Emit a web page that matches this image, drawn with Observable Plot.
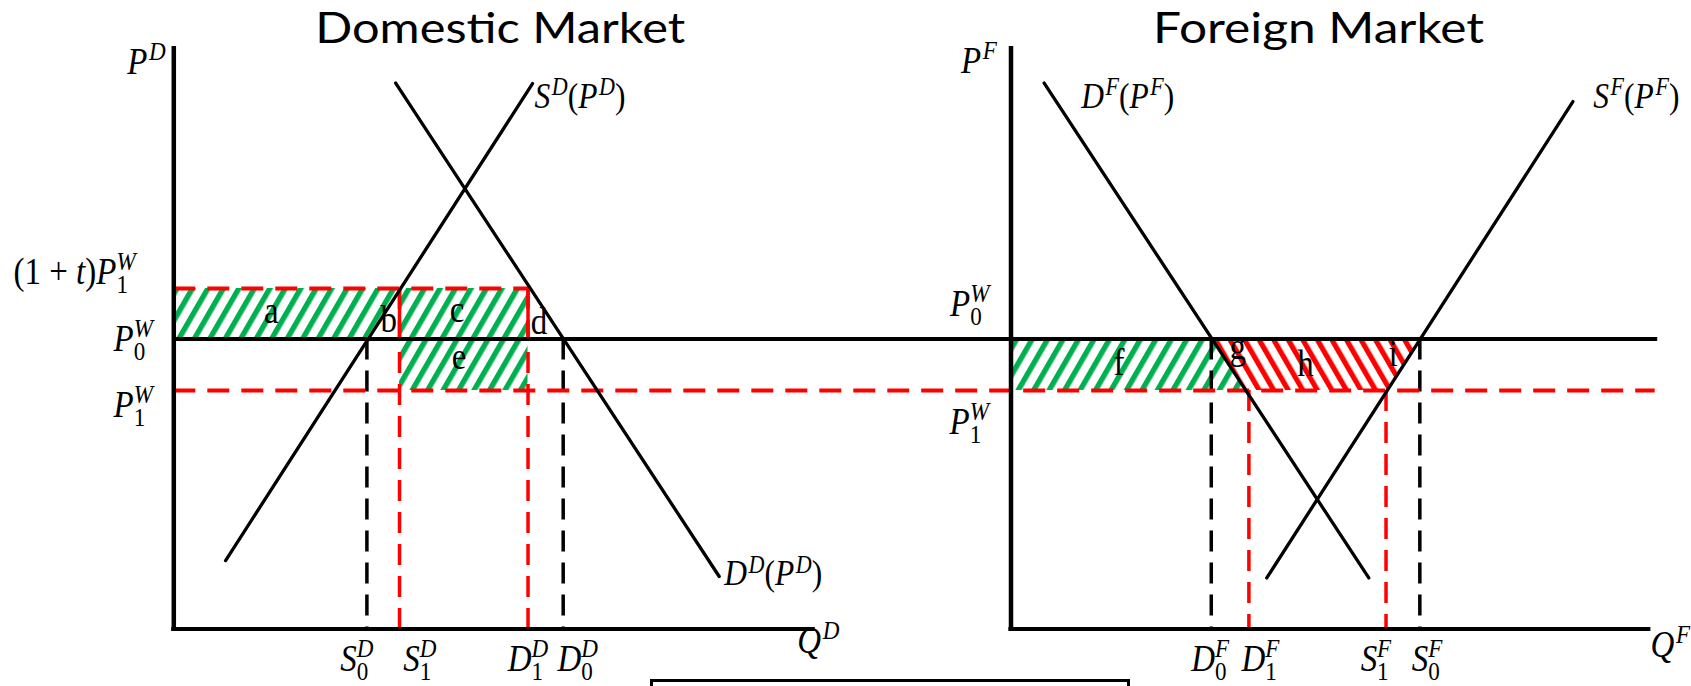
<!DOCTYPE html>
<html>
<head>
<meta charset="utf-8">
<script src="https://cdn.jsdelivr.net/npm/d3@7"></script>
<script src="https://cdn.jsdelivr.net/npm/@observablehq/plot@0.6"></script>
<style>
  html, body { margin: 0; padding: 0; background: #fff; overflow: hidden; }
  #root { position: relative; width: 1691px; height: 686px; overflow: hidden; background: #fff; }
  #root > svg { position: absolute; top: 0; }
  #box { position: absolute; left: 650px; top: 679px; width: 480px; height: 40px; border: 3.5px solid #000; box-sizing: border-box; }
</style>
</head>
<body>
<svg width="0" height="0" style="position:absolute;left:0;top:0">
  <defs>
    <pattern id="hatchGreen" patternUnits="userSpaceOnUse" width="13.4" height="20" patternTransform="rotate(30)">
      <rect x="0" y="0" width="5.4" height="20" fill="#00B050"></rect>
    </pattern>
    <pattern id="hatchRed" patternUnits="userSpaceOnUse" width="12.6" height="20" patternTransform="rotate(-30)">
      <rect x="0" y="0" width="5.2" height="20" fill="#FF0000"></rect>
    </pattern>
  </defs>
</svg>
<div id="root"></div>
<script>
// ------------------------------------------------------------------ data
const panelTitles = ["Domestic Market", "Foreign Market"];

// price levels (shared by both markets)
const P0W = 5.00;   // world price, free trade
const P1W = 4.11;   // world price with tariff
const PT  = 5.87;   // (1+t) P1W, domestic price with tariff
const axisMax = [10, 10];           // quantity / price axis extents
const tariffLineEnd = 5.58;         // (1+t)P1W line stops at domestic demand
const worldLineEnd = [10.14, 10.1]; // P0W and P1W lines stop in foreign panel
const domLineReach = 12;            // lines run on through the gap

// curves (quantity, price)
const domSupply = [{q: 0.81, p: 1.18}, {q: 5.61, p: 9.40}];
const domDemand = [{q: 3.47, p: 9.41}, {q: 8.53, p: 0.905}];
const forDemand = [{q: 0.52, p: 9.41}, {q: 5.61, p: 0.88}];
const forSupply = [{q: 4.01, p: 0.88}, {q: 8.81, p: 9.09}];

// quantity markers
const domQuantities = [
  {label: "S_0^D", q: 3.02, p: P0W, tariff: false},
  {label: "S_1^D", q: 3.53, p: PT,  tariff: true},
  {label: "D_1^D", q: 5.54, p: PT,  tariff: true},
  {label: "D_0^D", q: 6.09, p: P0W, tariff: false}
];
const forQuantities = [
  {label: "D_0^F", q: 3.14, p: P0W, tariff: false},
  {label: "D_1^F", q: 3.73, p: P1W, tariff: true},
  {label: "S_1^F", q: 5.88, p: P1W, tariff: true},
  {label: "S_0^F", q: 6.41, p: P0W, tariff: false}
];

// price axis labels
const domPriceLabels = ["P^D", "(1 + t)P_1^W", "P_0^W", "P_1^W"];
const domPriceValues = [10, PT, P0W, P1W];
const forPriceLabels = ["P^F", "P_0^W", "P_1^W"];
const forPriceValues = [10, P0W, P1W];
const axisNames = ["Q^D", "Q^F"];
const curveNames = ["S^D(P^D)", "D^D(P^D)", "D^F(P^F)", "S^F(P^F)"];

// welfare areas (quantity range, price range)
const domAreas = [
  {label: "a", q: [0, 3.02],    p: [P0W, PT]},
  {label: "b", q: [3.02, 3.53], p: [P0W, PT]},
  {label: "c", q: [3.53, 5.54], p: [P0W, PT]},
  {label: "d", q: [5.54, 6.09], p: [P0W, PT]},
  {label: "e", q: [3.53, 5.54], p: [P1W, P0W]}
];
const forAreas = [
  {label: "f", q: [0, 3.14],    p: [P1W, P0W]},
  {label: "g", q: [3.14, 3.73], p: [P1W, P0W]},
  {label: "h", q: [3.73, 5.88], p: [P1W, P0W]},
  {label: "i", q: [5.88, 6.41], p: [P1W, P0W]}
];

// hatched regions (band between two prices, left/right quantity edges)
const domGreenRegions = [
  [{p: P0W, x1: 0, x2: 3.02}, {p: PT, x1: 0, x2: 3.53}],
  [{p: P1W, x1: 3.53, x2: 5.54}, {p: PT, x1: 3.53, x2: 5.54}]
];
const forGreenRegions = [
  [{p: P1W, x1: 0, x2: 3.71}, {p: P0W, x1: 0, x2: 3.14}]
];
const forRedRegions = [
  [{p: P1W, x1: 3.71, x2: 5.90}, {p: P0W, x1: 3.14, x2: 6.42}]
];

// ------------------------------------------------------------------ style / layout
const RED = "#FF0000";
const SERIF = "'Liberation Serif', 'Times New Roman', serif";
const SANS = "Lato, 'Open Sans', sans-serif";
const FS = 33;
const STRETCH = 1.12;   // the reference lettering is drawn tall and narrow
const DASH_V = "21,11", DASH_H = "22,12";
const H = 686, MT = 48.3, MB = 57.5;

const domTickDx = [-26.7, 3.7, -20.3, -5.7];
const forTickDx = [-20, -7.5, -25.4, -8.2];
const domPriceNudge = [[-46.6, 24.7], [-160.3, -4.7], [-60.3, 11.7], [-60.3, 26]];
const forPriceNudge = [[-50, 23.7], [-61, -23.3], [-61.5, 43]];
const domAreaNudge = [[1, 9], [5.5, 18], [-6.8, 8], [-6.5, 20], [-4.8, 3.8]];
const forAreaNudge = [[7.75, 9.8], [7.75, -6.2], [-12, 10.8], [-9.8, 0.8]];

const mtext = (datum, x, y, text, dx, dy, extra = {}) =>
  Plot.text([datum], {x, y, text, dx, dy, textAnchor: "start", lineAnchor: "bottom",
    fontFamily: SERIF, fontSize: FS, fill: "black", ...extra});

const areaMarks = (areas, nudges) => areas.map((a, i) =>
  Plot.text([a], {x: d => (d.q[0] + d.q[1]) / 2, y: d => (d.p[0] + d.p[1]) / 2, text: "label",
    dx: nudges[i][0], dy: nudges[i][1], textAnchor: "middle", lineAnchor: "bottom",
    fontFamily: SERIF, fontSize: FS, fill: "black"}));

const tickMarks = (ticks, dxs) => ticks.map((t, i) =>
  mtext(t, "q", () => 0, "label", dxs[i], 41.5));

const verticals = (ticks) => [
  Plot.ruleX(ticks.filter(d => !d.tariff), {x: "q", y1: "p", y2: () => 0, stroke: "black", strokeWidth: 3.5, strokeDasharray: DASH_V}),
  Plot.ruleX(ticks.filter(d => d.tariff), {x: "q", y1: "p", y2: () => 0, stroke: RED, strokeWidth: 3.5, strokeDasharray: DASH_V})
];

const axes = [
  Plot.ruleX([0], {y1: 0, y2: axisMax[1], stroke: "black", strokeWidth: 4.5, strokeLinecap: "square"}),
  Plot.ruleY([0], {x1: 0, x2: axisMax[0], stroke: "black", strokeWidth: 4.2, strokeLinecap: "square"})
];

// ------------------------------------------------------------------ domestic panel
const domMarks = [
  ...domGreenRegions.map(r => Plot.areaX(r, {y: "p", x1: "x1", x2: "x2", fill: "url(#hatchGreen)"})),
  // edges of triangles b and d
  Plot.ruleX(domQuantities.filter(d => d.tariff), {x: "q", y1: () => P0W, y2: "p", stroke: RED, strokeWidth: 3.5}),
  ...verticals(domQuantities),
  Plot.ruleY([PT], {y: d => d, x1: 0, x2: tariffLineEnd, stroke: RED, strokeWidth: 4, strokeDasharray: DASH_H}),
  Plot.ruleY([P1W], {y: d => d, x1: 0, x2: domLineReach, stroke: RED, strokeWidth: 4, strokeDasharray: DASH_H}),
  Plot.line(domSupply, {x: "q", y: "p", stroke: "black", strokeWidth: 3.3}),
  Plot.line(domDemand, {x: "q", y: "p", stroke: "black", strokeWidth: 3.3}),
  Plot.ruleY([P0W], {y: d => d, x1: 0, x2: domLineReach, stroke: "black", strokeWidth: 4}),
  ...axes,
  ...areaMarks(domAreas, domAreaNudge),
  ...tickMarks(domQuantities, domTickDx),
  ...domPriceLabels.map((s, i) => mtext({s, p: domPriceValues[i]}, () => 0, "p", "s", domPriceNudge[i][0], domPriceNudge[i][1])),
  mtext({s: axisNames[0]}, () => axisMax[0], () => 0, "s", -16, 23.5),
  mtext({s: curveNames[0], ...domSupply[1]}, "q", "p", "s", 2, 24, {fontSize: 31.5}),
  mtext({s: curveNames[1], ...domDemand[1]}, "q", "p", "s", 5, 9, {fontSize: 31.5}),
  Plot.text([panelTitles[0]], {frameAnchor: "top", text: d => d, dx: 6.7, dy: -6, lineAnchor: "bottom",
    fontFamily: SANS, fontSize: 42, fill: "black"})
];

// ------------------------------------------------------------------ foreign panel
const forMarks = [
  ...forGreenRegions.map(r => Plot.areaX(r, {y: "p", x1: "x1", x2: "x2", fill: "url(#hatchGreen)"})),
  ...forRedRegions.map(r => Plot.areaX(r, {y: "p", x1: "x1", x2: "x2", fill: "url(#hatchRed)"})),
  ...verticals(forQuantities),
  Plot.ruleY([P1W], {y: d => d, x1: -3, x2: worldLineEnd[1], stroke: RED, strokeWidth: 4, strokeDasharray: DASH_H}),
  Plot.line(forDemand, {x: "q", y: "p", stroke: "black", strokeWidth: 3.3}),
  Plot.line(forSupply, {x: "q", y: "p", stroke: "black", strokeWidth: 3.3}),
  Plot.ruleY([P0W], {y: d => d, x1: -3, x2: worldLineEnd[0], stroke: "black", strokeWidth: 4}),
  ...axes,
  ...areaMarks(forAreas, forAreaNudge),
  ...tickMarks(forQuantities, forTickDx),
  ...forPriceLabels.map((s, i) => mtext({s, p: forPriceValues[i]}, () => 0, "p", "s", forPriceNudge[i][0], forPriceNudge[i][1])),
  mtext({s: axisNames[1]}, () => axisMax[0], () => 0, "s", 1.7, 27.5),
  mtext({s: curveNames[2], ...forDemand[0]}, "q", "p", "s", 37, 25, {fontSize: 31.5}),
  mtext({s: curveNames[3], ...forSupply[1]}, "q", "p", "s", 20.4, 6, {fontSize: 31.5}),
  Plot.text([panelTitles[1]], {frameAnchor: "top", text: d => d, dx: -11.4, dy: -6, lineAnchor: "bottom",
    fontFamily: SANS, fontSize: 42, fill: "black"})
];

// ------------------------------------------------------------------ render
const root = document.getElementById("root");
function panel(width, left, marginLeft, marginRight, marks) {
  const svg = Plot.plot({
    width, height: H, marginLeft, marginRight, marginTop: MT, marginBottom: MB,
    x: {domain: [0, axisMax[0]], axis: null},
    y: {domain: [0, axisMax[1]], axis: null},
    marks
  });
  svg.style.left = left + "px";
  svg.style.background = "transparent";
  root.appendChild(svg);
  return svg;
}

// typeset "P_0^W"-style strings as real text with sub/superscripts
function mathify(svg) {
  const NS = "http://www.w3.org/2000/svg";
  for (const t of svg.querySelectorAll("text")) {
    const s = t.textContent;
    if (!/[\^_]/.test(s)) continue;
    const fs = parseFloat(getComputedStyle(t).fontSize);
    const tokens = [];
    for (let i = 0; i < s.length;) {
      if (s[i] === "^" || s[i] === "_") { tokens.push({type: s[i] === "^" ? "sup" : "sub", text: s[i + 1]}); i += 2; }
      else { let j = i; while (j < s.length && s[j] !== "^" && s[j] !== "_") j++; tokens.push({type: "n", text: s.slice(i, j)}); i = j; }
    }
    t.textContent = "";
    let cur = 0, pendingDx = 0, last = null;
    const add = (text, size, shift, dx) => {
      const ts = document.createElementNS(NS, "tspan");
      ts.textContent = text;
      ts.setAttribute("font-style", /[A-Za-z]/.test(text) ? "italic" : "normal");
      ts.setAttribute("font-size", size);
      const dy = shift - cur;
      if (dy) ts.setAttribute("dy", dy);
      if (dx) ts.setAttribute("dx", dx);
      cur = shift;
      t.appendChild(ts);
      return ts.getComputedTextLength();
    };
    const ss = fs * 0.7;
    for (const tok of tokens) {
      if (tok.type === "n") {
        const runs = tok.text.match(/[A-Za-z]+|[^A-Za-z]+/g) || [];
        runs.forEach((r, k) => add(r, fs, 0, k === 0 ? pendingDx : 0));
        pendingDx = 0; last = null;
      } else {
        const shift = tok.type === "sup" ? -0.36 * fs : 0.25 * fs;
        if (last && last.type !== tok.type) {
          const w = add(tok.text, ss, shift, -last.w);
          pendingDx = Math.max(0, last.w - w);
          last = null;
        } else {
          const kern = tok.type === "sup" ? 0.05 * fs : 0;
          const w = add(tok.text, ss, shift, pendingDx + kern);
          pendingDx = 0;
          last = {type: tok.type, w};
        }
      }
    }
  }
}
// stretch serif lettering vertically about its baseline
function stretch(svg, sy) {
  for (const t of svg.querySelectorAll("text")) {
    if (!/Liberation Serif/.test(getComputedStyle(t).fontFamily)) continue;
    const tr = t.getAttribute("transform");
    if (tr) t.setAttribute("transform", tr + ` scale(1,${sy})`);
    else {
      const x = parseFloat(t.getAttribute("x")) || 0, y = parseFloat(t.getAttribute("y")) || 0;
      t.removeAttribute("x"); t.removeAttribute("y");
      t.setAttribute("transform", `translate(${x},${y}) scale(1,${sy})`);
    }
  }
}
function fitText(svg, str, len) {
  for (const t of svg.querySelectorAll("text")) if (t.textContent === str) {
    t.setAttribute("textLength", len);
    t.setAttribute("lengthAdjust", "spacingAndGlyphs");
  }
}

const domSvg = panel(900, 0, 173.3, 87.3, domMarks);
const forSvg = panel(791, 900, 110.5, 42.7, forMarks);
mathify(domSvg); mathify(forSvg);
stretch(domSvg, STRETCH); stretch(forSvg, STRETCH);
fitText(domSvg, panelTitles[0], 370);
fitText(forSvg, panelTitles[1], 331);

const box = document.createElement("div");
box.id = "box";
root.appendChild(box);
</script>
</body>
</html>
